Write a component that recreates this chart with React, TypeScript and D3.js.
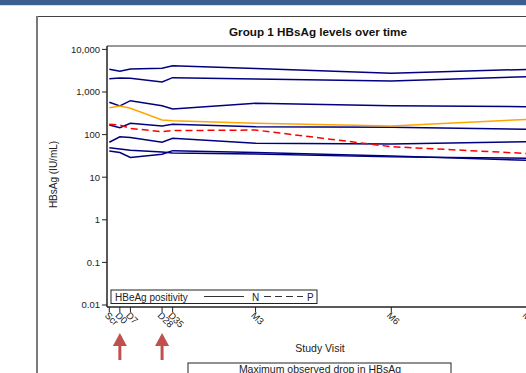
import React from 'react'
import * as d3 from 'd3'

// visits on x (days since D0)
const visits = ['Scr', 'D0', 'D7', 'D28', 'D35', 'M3', 'M6', 'M9']
const visitDays = [-7, 0, 7, 28, 35, 90, 180, 270]

// y axis
const yTicks = [0.01, 0.1, 1, 10, 100, 1000, 10000]
const yTickLabels = ['0.01', '0.1', '1', '10', '100', '1,000', '10,000']

// subject series (HBsAg IU/mL per visit)
const subj1 = [3410, 3060, 3470, 3600, 4140, 3550, 2750, 3400]
const subj2 = [2050, 2130, 2100, 1720, 2170, 2020, 1810, 2290]
const subj3 = [573, 469, 625, 476, 399, 543, 476, 452]
const subj4 = [428, 469, 414, 220, 212, 184, 159, 228]
const subj5 = [175, 168, 140, 117, 124, 128, 52, 36]
const subj6 = [168, 145, 184, 159, 175, 153, 148, 133]
const subj7 = [66, 89, 85, 66, 82, 63, 60, 68]
const subj8 = [49, 46, 43, 39, 37, 35, 30, 28]
const subj9 = [41, 38, 29, 34.5, 42, 38, 31.5, 25]

const series = [
  { values: subj1, color: '#000080', dash: '' },
  { values: subj2, color: '#000080', dash: '' },
  { values: subj3, color: '#000080', dash: '' },
  { values: subj6, color: '#000080', dash: '' },
  { values: subj7, color: '#000080', dash: '' },
  { values: subj8, color: '#000080', dash: '' },
  { values: subj9, color: '#000080', dash: '' },
  { values: subj4, color: '#FFA500', dash: '' },
  { values: subj5, color: '#FF0000', dash: '7,4' },
]

const arrowVisits = ['D0', 'D28']

const font = 'Liberation Sans, Arial, sans-serif'

const App = () => {
  const W = 526, H = 373
  const left = 107, top = 46, bottom = 307

  const x = d3.scaleLinear().domain([-7, 270]).range([109.3, 527])
  const y = d3.scaleLog().domain([0.01, 10000]).range([305, 49.4])

  const line = d3.line<number>()
    .x((d, i) => x(visitDays[i]))
    .y(d => y(d))

  return (
    <svg width={W} height={H} style={{ position: 'absolute', left: 0, top: 0, background: '#fff' }}
      fontFamily={font}>
      {/* slide header */}
      <rect x={0} y={0} width={W} height={5} fill="#3a5f8f" />
      <rect x={0} y={5} width={W} height={1} fill="#d5dcea" />
      {/* outer frame */}
      <line x1={36} x2={W} y1={16.5} y2={16.5} stroke="#444" />
      <line x1={37} x2={37} y1={16} y2={H} stroke="#7a7a7a" strokeWidth={2} />

      <text x={318} y={36} textAnchor="middle" fontSize={11.7} fontWeight="bold" fill="#111">
        Group 1 HBsAg levels over time
      </text>

      {/* plot frame */}
      <line x1={left} x2={W} y1={top} y2={top} stroke="#333" />
      <line x1={left} x2={left} y1={top} y2={bottom} stroke="#222" strokeWidth={1.5} />
      <line x1={left} x2={W} y1={bottom} y2={bottom} stroke="#222" strokeWidth={1.5} />

      {/* y axis */}
      {yTicks.map((t, i) => (
        <g key={t}>
          <line x1={left - 5} x2={left} y1={y(t)} y2={y(t)} stroke="#222" />
          <text x={left - 7} y={y(t) + 3.3} textAnchor="end" fontSize={9.5} fill="#222">
            {yTickLabels[i]}
          </text>
        </g>
      ))}
      <text transform={`translate(57,${(top + bottom) / 2 - 2}) rotate(-90)`} textAnchor="middle"
        fontSize={10} fill="#222">HBsAg (IU/mL)</text>

      {/* x axis */}
      {visits.map((v, i) => (
        <g key={v}>
          <line x1={x(visitDays[i])} x2={x(visitDays[i])} y1={bottom} y2={bottom + 5} stroke="#222" />
          <text transform={`translate(${x(visitDays[i]) - 5},${bottom + 9}) rotate(45)`}
            fontSize={9.5} fill="#222">{v}</text>
        </g>
      ))}
      <text x={320} y={352} textAnchor="middle" fontSize={10.5} fill="#222">Study Visit</text>

      {/* series */}
      {series.map((s, i) => (
        <path key={i} d={line(s.values) || ''} fill="none" stroke={s.color}
          strokeWidth={1.5} strokeDasharray={s.dash} />
      ))}

      {/* legend */}
      <rect x={111} y={290} width={206} height={13.5} fill="#fff" stroke="#222" />
      <text x={115} y={300.5} fontSize={10} fill="#222">HBeAg positivity</text>
      <line x1={204} x2={244} y1={296.5} y2={296.5} stroke="#333" />
      <text x={252} y={300.5} fontSize={10} fill="#222">N</text>
      <line x1={264} x2={303} y1={296.5} y2={296.5} stroke="#333" strokeDasharray="7,4" />
      <text x={307} y={300.5} fontSize={10} fill="#222">P</text>

      {/* arrows */}
      {arrowVisits.map(v => {
        const cx = x(visitDays[visits.indexOf(v)])
        return (
          <g key={v} fill="#c0504d">
            <path d={`M${cx},333 L${cx + 7},346 L${cx + 1.5},346 L${cx + 1.5},360 L${cx - 1.5},360 L${cx - 1.5},346 L${cx - 7},346 Z`} />
          </g>
        )
      })}

      {/* annotation box */}
      <rect x={188} y={363} width={263} height={20} fill="#fff" stroke="#222" />
      <text x={320} y={373} textAnchor="middle" fontSize={10.5} fill="#222">Maximum observed drop in HBsAg</text>
    </svg>
  )
}

export default App
